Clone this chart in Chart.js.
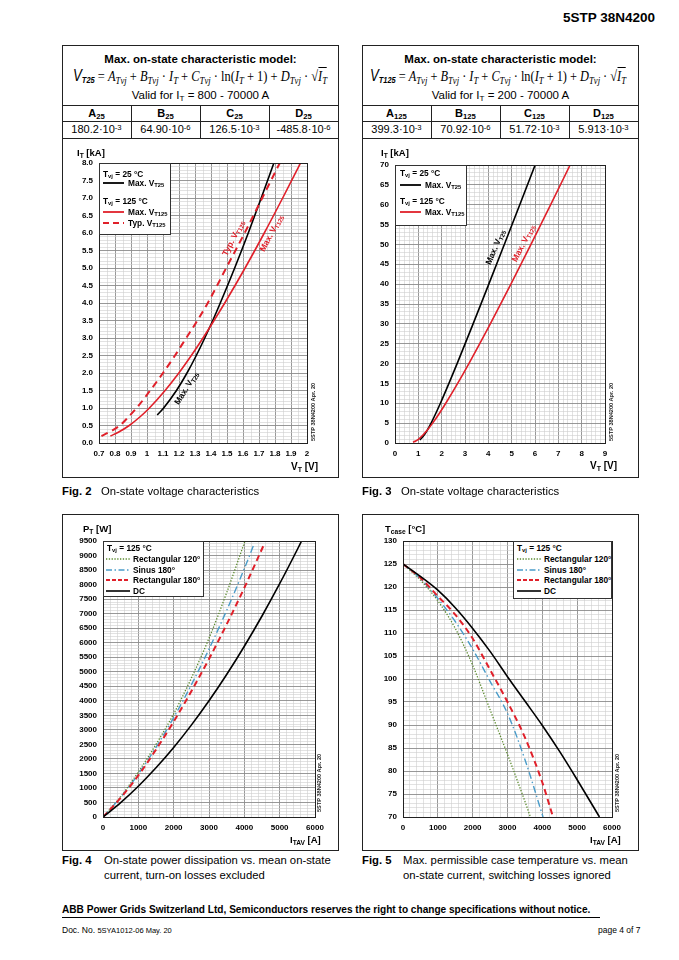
<!DOCTYPE html>
<html><head><meta charset="utf-8">
<script src="https://cdn.jsdelivr.net/npm/chart.js@4.4.1/dist/chart.umd.min.js"></script>
<style>
html,body{margin:0;padding:0;background:#fff}
body{width:679px;height:960px;position:relative;overflow:hidden;font-family:"Liberation Sans",Arial,sans-serif;color:#000}
.a{position:absolute;white-space:nowrap}
.box{position:absolute;border:1px solid #222;box-sizing:border-box}
.hl{position:absolute;height:0;border-top:1px solid #222}
.vl{position:absolute;width:0;border-left:1px solid #222}
.c{text-align:center}
sub{font-size:70%;vertical-align:-0.25em;line-height:0}
sup{font-size:70%;vertical-align:0.45em;line-height:0}
.b{font-weight:bold}
.t11{font-size:11.3px}
.ax{font-size:9.5px;font-weight:bold}
.leg{position:absolute;background:#fff;border:1px solid #333;box-sizing:border-box}
.lg{position:absolute;font-size:8.3px;font-weight:bold;white-space:nowrap;line-height:10px}
.stamp{position:absolute;font-size:5.6px;font-weight:bold;white-space:nowrap;transform-origin:0 0;transform:rotate(-90deg);color:#222}
.cl{position:absolute;font-size:8.5px;font-weight:bold;white-space:nowrap;line-height:10px}
.f{font-family:"Liberation Serif","Times New Roman",serif;font-style:italic;font-size:15px;transform-origin:0 50%}
.f .u{font-style:normal}
canvas{position:absolute}
</style></head><body>
<script>
// ===== DATA =====
// Fig. 2 / Fig. 3 : on-state characteristics, current I_T in kA, voltage V_T in V
const fig2_T25_I = [0.8, 1.0, 1.5, 2.0, 2.5, 3.0, 3.5, 4.0, 5.0, 6.0, 7.0, 8.0];
const fig2_T25_V = [1.064, 1.104, 1.184, 1.250, 1.308, 1.361, 1.411, 1.458, 1.548, 1.633, 1.714, 1.793];
const fig2_T125max_I = [0.2, 0.3, 0.5, 0.75, 1.0, 1.5, 2.0, 2.5, 3.0, 3.5, 4.0, 5.0, 6.0, 7.0, 8.0];
const fig2_T125max_V = [0.771, 0.818, 0.889, 0.957, 1.015, 1.113, 1.199, 1.277, 1.350, 1.419, 1.486, 1.613, 1.733, 1.848, 1.960];
const fig2_T125typ_I = [0.2, 0.3, 0.5, 0.75, 1.0, 1.5, 2.0, 2.5, 3.0, 3.5, 4.0, 5.0, 6.0, 7.0, 8.0];
const fig2_T125typ_V = [0.715, 0.760, 0.830, 0.885, 0.935, 1.020, 1.100, 1.175, 1.245, 1.315, 1.380, 1.495, 1.610, 1.720, 1.830];

const fig3_T25_I = [0.8, 1, 2, 3, 5, 10, 15, 20, 30, 40, 50, 60, 70];
const fig3_T25_V = [1.064, 1.104, 1.250, 1.361, 1.548, 1.946, 2.311, 2.662, 3.347, 4.020, 4.685, 5.347, 6.006];
const fig3_T125_I = [0.2, 0.5, 1, 2, 3, 5, 7.5, 10, 15, 20, 30, 40, 50, 60, 70];
const fig3_T125_V = [0.771, 0.889, 1.015, 1.199, 1.350, 1.613, 1.905, 2.176, 2.685, 3.166, 4.084, 4.967, 5.827, 6.672, 7.505];

// Fig. 4 : on-state power dissipation P_T [W] vs I_TAV [A]
const fig4_rect120_I = [0, 500, 1000, 1500, 2000, 2500, 3000, 3500, 4019];
const fig4_rect120_P = [0, 700, 1550, 2500, 3550, 4780, 6150, 7720, 9500];
const fig4_sin180_I = [0, 500, 1000, 1500, 2000, 2500, 3000, 3500, 4000, 4257];
const fig4_sin180_P = [0, 680, 1480, 2400, 3420, 4550, 5780, 7110, 8550, 9338];
const fig4_rect180_I = [0, 500, 1000, 1500, 2000, 2500, 3000, 3500, 4000, 4541];
const fig4_rect180_P = [0, 660, 1430, 2320, 3280, 4330, 5440, 6630, 7890, 9338];
const fig4_dc_I = [0, 500, 1000, 1500, 2000, 2500, 3000, 3500, 4000, 4500, 5000, 5500, 5620];
const fig4_dc_P = [0, 496, 1060, 1693, 2393, 3162, 3999, 4904, 5878, 6919, 8029, 9207, 9500];

// Fig. 5 : max. case temperature T_case [°C] vs I_TAV [A]
const fig5_rect120_I = [0, 500, 1000, 1500, 2000, 2500, 3000, 3500, 3657];
const fig5_rect120_T = [125, 121.5, 117, 111, 103, 93.3, 83.6, 73.4, 70];
const fig5_sin180_I = [0, 500, 1000, 1500, 2000, 2500, 3000, 3500, 4020];
const fig5_sin180_T = [125, 121.8, 117.5, 112.5, 106.5, 99.5, 92.5, 82.5, 70];
const fig5_rect180_I = [0, 500, 1000, 1500, 2000, 2500, 3000, 3500, 4000, 4306];
const fig5_rect180_T = [125, 122, 118, 114, 108.8, 102, 95, 87.3, 77.5, 70];
const fig5_dc_I = [0, 500, 1000, 1500, 2000, 2500, 3000, 3500, 4000, 4500, 5000, 5500, 5640];
const fig5_dc_T = [125, 122.3, 119.3, 115.5, 111, 106, 100.5, 95.2, 89.9, 84.2, 78.1, 71.8, 70];

// Tables
const t25_heads = ['A', 'B', 'C', 'D'];
const t25_vals = [['180.2', '-3'], ['64.90', '-6'], ['126.5', '-3'], ['-485.8', '-6']];
const t125_vals = [['399.3', '-3'], ['70.92', '-6'], ['51.72', '-3'], ['5.913', '-3']];
</script>

<!-- header -->
<div class="a b" style="right:24px;top:10px;font-size:13.5px">5STP 38N4200</div>

<!-- ===== left top panel ===== -->
<div class="box" style="left:62px;top:45px;width:277px;height:433px"></div>
<div class="a b c" style="left:62px;width:277px;top:53px;font-size:11.5px">Max. on-state characteristic model:</div>
<div class="a f" id="f25" data-w="254" style="left:73px;top:67px"><span style="font-family:'Liberation Sans',Arial,sans-serif;font-size:16px">V<sub style="font-weight:bold;font-size:9px">T25</sub></span><span class="u"> = </span>A<sub>Tvj</sub><span class="u"> + </span>B<sub>Tvj</sub><span class="u"> · </span>I<sub>T</sub><span class="u"> + </span>C<sub>Tvj</sub><span class="u"> · ln(</span>I<sub>T</sub><span class="u"> + 1) + </span>D<sub>Tvj</sub><span class="u"> · √</span><span style="border-top:1px solid #000">I<sub>T</sub></span></div>
<div class="a c" style="left:62px;width:277px;top:89px;font-size:11.5px">Valid for I<sub>T</sub> = 800 - 70000 A</div>
<div class="hl" style="left:62px;width:277px;top:105px"></div>
<div class="hl" style="left:62px;width:277px;top:121px"></div>
<div class="hl" style="left:62px;width:277px;top:138px"></div>
<div class="vl" style="left:131px;top:105px;height:33px"></div>
<div class="vl" style="left:200px;top:105px;height:33px"></div>
<div class="vl" style="left:269px;top:105px;height:33px"></div>
<div id="tab25"></div>

<!-- ===== right top panel ===== -->
<div class="box" style="left:362px;top:45px;width:277px;height:433px"></div>
<div class="a b c" style="left:362px;width:277px;top:53px;font-size:11.5px">Max. on-state characteristic model:</div>
<div class="a f" id="f125" data-w="256" style="left:370px;top:67px"><span style="font-family:'Liberation Sans',Arial,sans-serif;font-size:16px">V<sub style="font-weight:bold;font-size:9px">T125</sub></span><span class="u"> = </span>A<sub>Tvj</sub><span class="u"> + </span>B<sub>Tvj</sub><span class="u"> · </span>I<sub>T</sub><span class="u"> + </span>C<sub>Tvj</sub><span class="u"> · ln(</span>I<sub>T</sub><span class="u"> + 1) + </span>D<sub>Tvj</sub><span class="u"> · √</span><span style="border-top:1px solid #000">I<sub>T</sub></span></div>
<div class="a c" style="left:362px;width:277px;top:89px;font-size:11.5px">Valid for I<sub>T</sub> = 200 - 70000 A</div>
<div class="hl" style="left:362px;width:277px;top:105px"></div>
<div class="hl" style="left:362px;width:277px;top:121px"></div>
<div class="hl" style="left:362px;width:277px;top:138px"></div>
<div class="vl" style="left:431px;top:105px;height:33px"></div>
<div class="vl" style="left:500px;top:105px;height:33px"></div>
<div class="vl" style="left:569px;top:105px;height:33px"></div>
<div id="tab125"></div>

<canvas id="c2" width="274" height="338" style="left:63px;top:139px"></canvas>
<canvas id="c3" width="274" height="338" style="left:363px;top:139px"></canvas>

<!-- fig2 overlays -->
<div class="a ax" style="left:77px;top:147px">I<sub>T</sub> [kA]</div>
<div class="a ax" style="left:291px;top:461px;font-size:10px">V<sub>T</sub> [V]</div>
<div class="leg" style="left:99px;top:163px;width:72px;height:72px"></div>
<div class="lg" style="left:103px;top:169px">T<sub>vj</sub> = 25 °C</div>
<svg class="a" style="left:103px;top:179px" width="22" height="8"><line x1="0" y1="4" x2="21" y2="4" stroke="#000" stroke-width="1.8"/></svg>
<div class="lg" style="left:128px;top:178px">Max. V<sub>T25</sub></div>
<div class="lg" style="left:103px;top:196px">T<sub>vj</sub> = 125 °C</div>
<svg class="a" style="left:103px;top:208px" width="22" height="8"><line x1="0" y1="4" x2="21" y2="4" stroke="#e0202a" stroke-width="1.8"/></svg>
<div class="lg" style="left:128px;top:207px">Max. V<sub>T125</sub></div>
<svg class="a" style="left:103px;top:219px" width="22" height="8"><line x1="0" y1="4" x2="21" y2="4" stroke="#e0202a" stroke-width="1.8" stroke-dasharray="6,4"/></svg>
<div class="lg" style="left:128px;top:218px">Typ. V<sub>T125</sub></div>
<div class="cl" style="left:233px;top:238px;color:#e0202a;transform:translate(-50%,-50%) rotate(-63deg)">Typ. V<sub>T125</sub></div>
<div class="cl" style="left:271px;top:233px;color:#e0202a;transform:translate(-50%,-50%) rotate(-62deg)">Max. V<sub>T125</sub></div>
<div class="cl" style="left:186px;top:388px;color:#000;transform:translate(-50%,-50%) rotate(-58deg)">Max. V<sub>T25</sub></div>
<div class="stamp" style="left:310px;top:441px">5STP 38N4200 Apr. 20</div>

<!-- fig3 overlays -->
<div class="a ax" style="left:381px;top:147px">I<sub>T</sub> [kA]</div>
<div class="a ax" style="left:590px;top:460px;font-size:10px">V<sub>T</sub> [V]</div>
<div class="leg" style="left:395px;top:165px;width:72px;height:61px"></div>
<div class="lg" style="left:400px;top:168px">T<sub>vj</sub> = 25 °C</div>
<svg class="a" style="left:400px;top:181px" width="22" height="8"><line x1="0" y1="4" x2="21" y2="4" stroke="#000" stroke-width="1.8"/></svg>
<div class="lg" style="left:425px;top:180px">Max. V<sub>T25</sub></div>
<div class="lg" style="left:400px;top:196px">T<sub>vj</sub> = 125 °C</div>
<svg class="a" style="left:400px;top:208px" width="22" height="8"><line x1="0" y1="4" x2="21" y2="4" stroke="#e0202a" stroke-width="1.8"/></svg>
<div class="lg" style="left:425px;top:207px">Max. V<sub>T125</sub></div>
<div class="cl" style="left:495px;top:247px;color:#000;transform:translate(-50%,-50%) rotate(-67deg)">Max. V<sub>T25</sub></div>
<div class="cl" style="left:523px;top:243px;color:#e0202a;transform:translate(-50%,-50%) rotate(-63deg)">Max. V<sub>T125</sub></div>
<div class="stamp" style="left:608px;top:441px">5STP 38N4200 Apr. 20</div>

<!-- captions top -->
<div class="a t11" style="left:62px;top:485px"><b>Fig. 2</b></div>
<div class="a t11" style="left:101px;top:485px">On-state voltage characteristics</div>
<div class="a t11" style="left:362px;top:485px"><b>Fig. 3</b></div>
<div class="a t11" style="left:401px;top:485px">On-state voltage characteristics</div>

<!-- ===== bottom panels ===== -->
<div class="box" style="left:62px;top:514px;width:277px;height:337px"></div>
<div class="box" style="left:362px;top:514px;width:277px;height:337px"></div>
<canvas id="c4" width="274" height="334" style="left:63px;top:516px"></canvas>
<canvas id="c5" width="274" height="334" style="left:363px;top:516px"></canvas>

<!-- fig4 overlays -->
<div class="a ax" style="left:83px;top:523px">P<sub>T</sub> [W]</div>
<div class="a ax" style="left:290px;top:834px">I<sub>TAV</sub> [A]</div>
<div class="leg" style="left:103px;top:541px;width:101px;height:56px"></div>
<div class="lg" style="left:107px;top:543px">T<sub>vj</sub> = 125 °C</div>
<svg class="a" style="left:106px;top:555px" width="25" height="8"><line x1="0" y1="4" x2="24" y2="4" stroke="#5b8a2e" stroke-width="1.3" stroke-dasharray="1.3,1.5"/></svg>
<div class="lg" style="left:133px;top:554px">Rectangular 120°</div>
<svg class="a" style="left:106px;top:566px" width="25" height="8"><line x1="0" y1="4" x2="24" y2="4" stroke="#4a9cc9" stroke-width="1.4" stroke-dasharray="6,2.5,1.5,2.5"/></svg>
<div class="lg" style="left:133px;top:565px">Sinus 180°</div>
<svg class="a" style="left:106px;top:576px" width="25" height="8"><line x1="0" y1="4" x2="24" y2="4" stroke="#e0202a" stroke-width="1.8" stroke-dasharray="4,2"/></svg>
<div class="lg" style="left:133px;top:575px">Rectangular 180°</div>
<svg class="a" style="left:106px;top:587px" width="25" height="8"><line x1="0" y1="4" x2="24" y2="4" stroke="#000" stroke-width="1.6"/></svg>
<div class="lg" style="left:133px;top:586px">DC</div>
<div class="stamp" style="left:316px;top:812px">5STP 38N4200 Apr. 20</div>

<!-- fig5 overlays -->
<div class="a ax" style="left:385px;top:523px">T<sub>case</sub> [°C]</div>
<div class="a ax" style="left:590px;top:834px">I<sub>TAV</sub> [A]</div>
<div class="leg" style="left:513px;top:541px;width:99px;height:58px"></div>
<div class="lg" style="left:517px;top:543px">T<sub>vj</sub> = 125 °C</div>
<svg class="a" style="left:517px;top:555px" width="25" height="8"><line x1="0" y1="4" x2="24" y2="4" stroke="#5b8a2e" stroke-width="1.3" stroke-dasharray="1.3,1.5"/></svg>
<div class="lg" style="left:544px;top:554px">Rectangular 120°</div>
<svg class="a" style="left:517px;top:566px" width="25" height="8"><line x1="0" y1="4" x2="24" y2="4" stroke="#4a9cc9" stroke-width="1.4" stroke-dasharray="6,2.5,1.5,2.5"/></svg>
<div class="lg" style="left:544px;top:565px">Sinus 180°</div>
<svg class="a" style="left:517px;top:576px" width="25" height="8"><line x1="0" y1="4" x2="24" y2="4" stroke="#e0202a" stroke-width="1.8" stroke-dasharray="4,2"/></svg>
<div class="lg" style="left:544px;top:575px">Rectangular 180°</div>
<svg class="a" style="left:517px;top:587px" width="25" height="8"><line x1="0" y1="4" x2="24" y2="4" stroke="#000" stroke-width="1.6"/></svg>
<div class="lg" style="left:544px;top:586px">DC</div>
<div class="stamp" style="left:614px;top:812px">5STP 38N4200 Apr. 20</div>

<!-- captions bottom -->
<div class="a t11" style="left:62px;top:853px;line-height:14.5px"><b>Fig. 4</b></div>
<div class="a t11" style="left:104px;top:853px;line-height:14.5px">On-state power dissipation vs. mean on-state<br>current, turn-on losses excluded</div>
<div class="a t11" style="left:362px;top:853px;line-height:14.5px"><b>Fig. 5</b></div>
<div class="a t11" style="left:403px;top:853px;line-height:14.5px">Max. permissible case temperature vs. mean<br>on-state current, switching losses ignored</div>

<!-- footer -->
<div class="a b" style="left:62px;top:904px;font-size:10.1px">ABB Power Grids Switzerland Ltd, Semiconductors reserves the right to change specifications without notice.</div>
<div class="a" style="left:62px;top:917px;width:538px;height:0;border-top:1.5px solid #000"></div>
<div class="a" style="left:62px;top:925px;font-size:8.5px">Doc. No. <span style="font-size:7.5px">5SYA1012-06 May. 20</span></div>
<div class="a" style="left:598px;top:925px;font-size:8.5px">page 4 of 7</div>

<script>
// fit formulas to their width in the reference
['f25','f125'].forEach(id=>{
  const el = document.getElementById(id);
  const w = el.getBoundingClientRect().width;
  const target = parseFloat(el.dataset.w);
  el.style.transform = 'scaleX(' + (target / w) + ')';
});

// tables
function buildTable(el, left, sub, vals){
  let h = '';
  const colL = [left, left+69, left+138, left+207];
  for (let i=0;i<4;i++){
    h += `<div class="a b c" style="left:${colL[i]}px;width:69px;top:107px;font-size:11px">${t25_heads[i]}<sub>${sub}</sub></div>`;
    h += `<div class="a c" style="left:${colL[i]}px;width:69px;top:123px;font-size:11px">${vals[i][0]}·10<sup>${vals[i][1]}</sup></div>`;
  }
  document.getElementById(el).innerHTML = h;
}
buildTable('tab25', 62, '25', t25_vals);
buildTable('tab125', 362, '125', t125_vals);

const RED = '#e0202a', GREEN = '#5b8a2e', BLUE = '#4a9cc9', BLACK = '#000';
function pts(xs, ys){ return xs.map((x,i)=>({x:x, y:ys[i]})); }
function isMul(v, m){ const q = v/m; return Math.abs(q - Math.round(q)) < 1e-6; }

function scale(min, max, minor, major, fmt, extra){
  return Object.assign({
    type:'linear', min:min, max:max,
    ticks:{stepSize:minor, autoSkip:false, maxRotation:0, minRotation:0, padding:6, color:'#000',
      font:{family:'"Liberation Sans", Arial, sans-serif', size:8, weight:'bold'},
      callback:(v)=> isMul(v, major) ? fmt(v) : ''},
    grid:{drawTicks:false, tickLength:0,
      color:(c)=> isMul(c.tick.value, major) ? '#8c8c8c' : '#cfcfcf',
      lineWidth:(c)=> isMul(c.tick.value, major) ? 0.9 : 0.6},
    border:{display:true, color:'#222', width:1}
  }, extra||{});
}

const framePlugin = {
  id:'frame',
  afterDatasetsDraw(chart){
    const a = chart.chartArea, ctx = chart.ctx;
    ctx.save(); ctx.strokeStyle = '#222'; ctx.lineWidth = 1;
    ctx.strokeRect(Math.round(a.left)+0.5, Math.round(a.top)+0.5, Math.round(a.right-a.left), Math.round(a.bottom-a.top));
    ctx.restore();
  }
};

function ds(xs, ys, color, width, dash){
  return {data:pts(xs, ys), borderColor:color, borderWidth:width, borderDash:dash||[], showLine:true,
    pointRadius:0, fill:false, cubicInterpolationMode:'monotone', borderCapStyle:'butt'};
}

function make(id, datasets, xs, ys, pad){
  return new Chart(document.getElementById(id), {
    type:'scatter',
    data:{datasets:datasets},
    options:{
      responsive:false, animation:false, devicePixelRatio:1,
      layout:{padding:{left:0, top:pad.top, right:pad.right, bottom:0}},
      plugins:{legend:{display:false}, tooltip:{enabled:false}},
      scales:{
        x:Object.assign(xs, {afterFit:(s)=>{ s.height = pad.xh; }}),
        y:Object.assign(ys, {afterFit:(s)=>{ s.width = pad.yw; }})
      }
    },
    plugins:[framePlugin]
  });
}

// Fig. 2
make('c2', [
  ds(fig2_T125typ_V, fig2_T125typ_I, RED, 2, [7,5]),
  ds(fig2_T125max_V, fig2_T125max_I, RED, 1.6),
  ds(fig2_T25_V, fig2_T25_I, BLACK, 1.6)
],
 scale(0.7, 2, 0.05, 0.1, v=>String(Math.round(v*10)/10)),
 scale(0, 8, 0.1, 0.5, v=>v.toFixed(1)),
 {top:24, right:30, xh:34, yw:36});

// Fig. 3
make('c3', [
  ds(fig3_T125_V, fig3_T125_I, RED, 1.6),
  ds(fig3_T25_V, fig3_T25_I, BLACK, 1.6)
],
 scale(0, 9, 0.2, 1, v=>String(Math.round(v))),
 scale(0, 70, 1, 5, v=>String(Math.round(v))),
 {top:26, right:32, xh:34, yw:32});

// Fig. 4
make('c4', [
  ds(fig4_dc_I, fig4_dc_P, BLACK, 1.6),
  ds(fig4_rect180_I, fig4_rect180_P, RED, 2, [6,4]),
  ds(fig4_sin180_I, fig4_sin180_P, BLUE, 1.4, [7,3,1.5,3]),
  ds(fig4_rect120_I, fig4_rect120_P, GREEN, 1.3, [1.3,1.6])
],
 scale(0, 6000, 200, 1000, v=>String(Math.round(v))),
 scale(0, 9500, 100, 500, v=>String(Math.round(v))),
 {top:25, right:22, xh:33, yw:40});

// Fig. 5
make('c5', [
  ds(fig5_dc_I, fig5_dc_T, BLACK, 1.6),
  ds(fig5_rect180_I, fig5_rect180_T, RED, 2, [6,4]),
  ds(fig5_sin180_I, fig5_sin180_T, BLUE, 1.4, [7,3,1.5,3]),
  ds(fig5_rect120_I, fig5_rect120_T, GREEN, 1.3, [1.3,1.6])
],
 scale(0, 6000, 200, 1000, v=>String(Math.round(v))),
 scale(70, 130, 1, 5, v=>String(Math.round(v))),
 {top:25, right:25, xh:33, yw:40});
</script>
</body></html>
